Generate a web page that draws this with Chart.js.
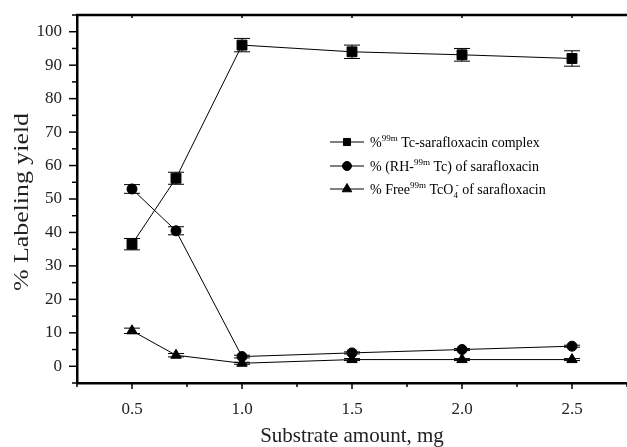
<!DOCTYPE html>
<html>
<head>
<meta charset="utf-8">
<script src="https://cdn.jsdelivr.net/npm/chart.js@4.4.1/dist/chart.umd.min.js"></script>
<style>
  html, body { margin: 0; padding: 0; background: #fff; }
  #wrap { width: 627px; height: 447px; position: relative; }
</style>
</head>
<body>
<div id="wrap"><canvas id="yield-chart" width="627" height="447"></canvas></div>
<script>
// ---- data ----
const amounts      = [0.5, 0.7, 1.0, 1.5, 2.0, 2.5];
const complexYield = [36.5, 56.2, 96.0, 94.0, 93.1, 92.0];
const complexErr   = [1.7, 1.8, 2.0, 2.0, 1.9, 2.3];
const rhYield      = [53.0, 40.5, 2.9, 4.0, 5.0, 6.0];
const rhErr        = [1.3, 1.2, 0.4, 0.3, 0.3, 0.3];
const freeYield    = [10.6, 3.3, 0.9, 2.0, 2.0, 2.0];
const freeErr      = [0.8, 0.5, 0.3, 0.3, 0.3, 0.3];
const yTitle = '% Labeling yield';

const SERIF = '"Liberation Serif", "Times New Roman", serif';
const pts = ys => amounts.map((x, i) => ({ x, y: ys[i] }));

function line(ctx, x1, y1, x2, y2) { ctx.beginPath(); ctx.moveTo(x1, y1); ctx.lineTo(x2, y2); ctx.stroke(); }

// error bars, drawn under the markers
const errorBars = {
  id: 'errorBars',
  beforeDatasetsDraw(chart) {
    const { ctx, scales: { y } } = chart;
    ctx.save();
    ctx.strokeStyle = '#000'; ctx.lineWidth = 1;
    chart.data.datasets.forEach((ds, i) => {
      const meta = chart.getDatasetMeta(i);
      meta.data.forEach((pt, j) => {
        const e = ds.errors[j], v = ds.data[j].y;
        const top = y.getPixelForValue(v + e), bot = y.getPixelForValue(v - e);
        line(ctx, pt.x, top, pt.x, bot);
        line(ctx, pt.x - 8, top, pt.x + 8, top);
        line(ctx, pt.x - 8, bot, pt.x + 8, bot);
      });
    });
    ctx.restore();
  }
};

// outward major/minor ticks, top frame line, stretched y title
const frame = {
  id: 'frame',
  afterDraw(chart) {
    const { ctx, chartArea: a, scales: { x, y } } = chart;
    ctx.save();
    ctx.strokeStyle = '#000';
    ctx.lineWidth = 1.5;
    x.ticks.forEach(t => {
      const px = x.getPixelForValue(t.value);
      const major = t.label !== '';
      line(ctx, px, a.bottom, px, a.bottom + (major ? 6 : 4));
      if (major) line(ctx, px, a.top, px, a.top + 3);
    });
    y.ticks.forEach(t => {
      const py = y.getPixelForValue(t.value);
      const major = t.label !== '';
      line(ctx, a.left - (major ? 8 : 5), py, a.left, py);
    });
    ctx.lineWidth = 2.5;
    line(ctx, a.left - 1, a.top, a.right, a.top);

    // y title: the original is drawn taller than its glyph weight suggests
    ctx.fillStyle = '#222';
    ctx.font = '20px ' + SERIF;
    ctx.textAlign = 'center';
    ctx.textBaseline = 'middle';
    const w = ctx.measureText(yTitle).width;
    ctx.translate(23, (a.top + a.bottom) / 2 + 3);
    ctx.rotate(-Math.PI / 2);
    ctx.scale(178 / w, 1);
    ctx.fillText(yTitle, 0, 0);
    ctx.restore();
  }
};

// legend with super/subscripts
function rich(ctx, x, y, parts) {
  parts.forEach(p => {
    let size = 14, dy = 0;
    if (p.s === 'sup') { size = 9; dy = -6; }
    if (p.s === 'sub') { size = 9; dy = 4; }
    ctx.font = size + 'px ' + SERIF;
    ctx.fillText(p.t, x, y + dy);
    if (!p.stay) x += ctx.measureText(p.t).width;
  });
}

const legendRows = [
  { style: 'rect',     r: 5,   y: 142, parts: [{ t: '%' }, { t: '99m', s: 'sup' }, { t: ' Tc-sarafloxacin complex' }] },
  { style: 'circle',   r: 4.5, y: 166, parts: [{ t: '% (RH-' }, { t: '99m', s: 'sup' }, { t: ' Tc) of sarafloxacin' }] },
  { style: 'triangle', r: 5.5, y: 189, parts: [{ t: '% Free' }, { t: '99m', s: 'sup' }, { t: ' TcO' }, { t: '4', s: 'sub', stay: true }, { t: ' -', s: 'sup' }, { t: ' of sarafloxacin' }] },
];

const richLegend = {
  id: 'richLegend',
  afterDraw(chart) {
    const ctx = chart.ctx;
    ctx.save();
    ctx.strokeStyle = '#000'; ctx.fillStyle = '#000'; ctx.lineWidth = 1;
    ctx.textBaseline = 'alphabetic';
    legendRows.forEach(row => {
      line(ctx, 330, row.y, 364, row.y);
      Chart.helpers.drawPoint(ctx, { pointStyle: row.style, radius: row.r, rotation: 0, borderWidth: 1 }, 347, row.y);
      rich(ctx, 370, row.y + 5, row.parts);
    });
    ctx.restore();
  }
};

const series = (data, errors, style, r) => ({
  data: pts(data), errors, showLine: true, tension: 0,
  borderColor: '#000', borderWidth: 1,
  pointStyle: style, pointRadius: r, pointHoverRadius: r,
  pointBackgroundColor: '#000', pointBorderColor: '#000', pointBorderWidth: 1,
});

new Chart(document.getElementById('yield-chart'), {
  type: 'scatter',
  data: {
    datasets: [
      series(complexYield, complexErr, 'rect', 7),
      series(rhYield, rhErr, 'circle', 5),
      series(freeYield, freeErr, 'triangle', 6),
    ],
  },
  options: {
    responsive: false, animation: false, devicePixelRatio: 1,
    layout: { autoPadding: false, padding: { top: 15, right: 0, left: 0, bottom: 0 } },
    plugins: { legend: { display: false }, tooltip: { enabled: false } },
    scales: {
      x: {
        type: 'linear', min: 0.25, max: 2.75,
        afterFit: s => { s.height = 64; s.paddingLeft = 0; s.paddingRight = 0; },
        border: { display: true, color: '#000', width: 2.5 },
        grid: { display: false, drawTicks: false },
        ticks: {
          stepSize: 0.25, autoSkip: false, maxRotation: 0, padding: 16,
          color: '#222', font: { family: SERIF, size: 17 },
          callback: v => Math.abs(v * 2 - Math.round(v * 2)) < 1e-6 ? v.toFixed(1) : '',
        },
        title: { display: true, text: 'Substrate amount, mg', color: '#222',
                 font: { family: SERIF, size: 21 }, padding: { top: 0, bottom: -2 } },
      },
      y: {
        min: -5, max: 105,
        afterFit: s => { s.width = 77; s.paddingTop = 0; s.paddingBottom = 0; },
        border: { display: true, color: '#000', width: 2.5 },
        grid: { display: false, drawTicks: false },
        ticks: {
          stepSize: 5, autoSkip: false, padding: 15,
          color: '#222', font: { family: SERIF, size: 17 },
          callback: v => (v % 10 === 0 && v >= 0 && v <= 100) ? String(v) : '',
        },
      },
    },
  },
  plugins: [errorBars, frame, richLegend],
});
</script>
</body>
</html>
